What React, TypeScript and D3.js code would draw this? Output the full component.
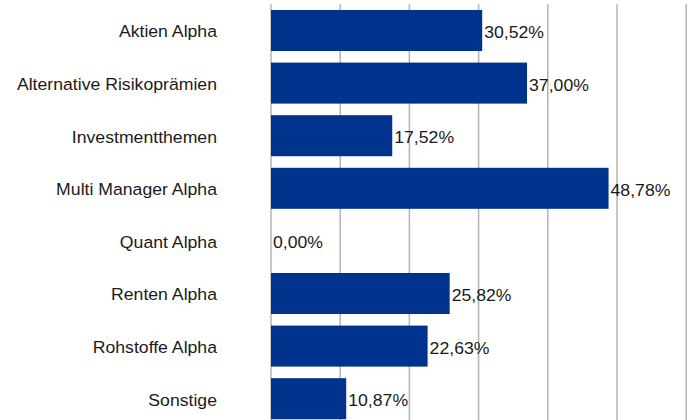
import React from 'react';
import * as d3 from 'd3';

// Chart data
const categories = [
  'Aktien Alpha',
  'Alternative Risikoprämien',
  'Investmentthemen',
  'Multi Manager Alpha',
  'Quant Alpha',
  'Renten Alpha',
  'Rohstoffe Alpha',
  'Sonstige',
];
const values = [30.52, 37.0, 17.52, 48.78, 0.0, 25.82, 22.63, 10.87];
const gridTicks = [0, 10, 20, 30, 40, 50, 60];

const W = 692;
const H = 420;
const margin = { top: 4.2, left: 271 };
const bandStep = 52.6;
// text in the reference is slightly stretched horizontally
const stretch = 1.07;

export default function App() {
  const x = d3.scaleLinear().domain([0, 60]).range([margin.left, margin.left + 415.2]);
  const y = d3
    .scaleBand<string>()
    .domain(categories)
    .range([margin.top, margin.top + bandStep * categories.length])
    .paddingInner(0.22)
    .paddingOuter(0.11);

  const fmt = (v: number) => v.toFixed(2).replace('.', ',') + '%';

  return (
    <svg
      width={W}
      height={H}
      style={{ position: 'absolute', left: 0, top: 0, background: '#fff' }}
      fontFamily="'Liberation Sans', Arial, sans-serif"
    >
      {/* vertical gridlines */}
      {gridTicks.map((t) => (
        <line
          key={t}
          x1={x(t)}
          x2={x(t)}
          y1={margin.top}
          y2={H}
          stroke="#b3b3b3"
          strokeWidth={1.5}
        />
      ))}

      {categories.map((c, i) => {
        const yTop = y(c) ?? 0;
        const cy = yTop + y.bandwidth() / 2;
        const xEnd = x(values[i]);
        return (
          <g key={c}>
            {values[i] > 0 && (
              <rect
                x={x(0)}
                y={yTop}
                width={xEnd - x(0)}
                height={y.bandwidth()}
                fill="#00338d"
              />
            )}
            <text
              transform={`translate(217,${cy}) scale(${stretch},1)`}
              dy="0.42em"
              textAnchor="end"
              fontSize={16.5}
              fill="#1a1a1a"
            >
              {c}
            </text>
            <text
              transform={`translate(${xEnd + 2},${cy}) scale(${stretch},1)`}
              dy="0.45em"
              fontSize={16.5}
              fill="#1a1a1a"
            >
              {fmt(values[i])}
            </text>
          </g>
        );
      })}
    </svg>
  );
}
